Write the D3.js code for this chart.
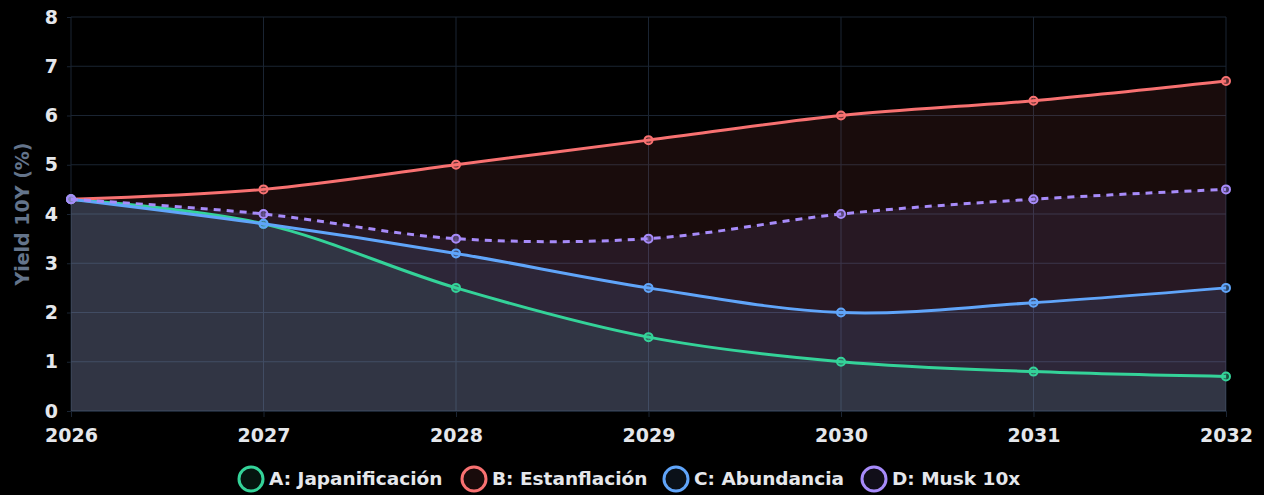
<!DOCTYPE html>
<html>
<head>
<meta charset="utf-8">
<script src="https://d3js.org/d3.v7.min.js"></script>
<style>
  body { margin: 0; background: #000; }
  text { font-family: "DejaVu Sans", sans-serif; font-weight: bold; }
</style>
</head>
<body>
<svg width="1264" height="495"></svg>
<script>
var years = [2026, 2027, 2028, 2029, 2030, 2031, 2032];
var yTicks = [0, 1, 2, 3, 4, 5, 6, 7, 8];

var seriesNames = ["A: Japanificación", "B: Estanflación", "C: Abundancia", "D: Musk 10x"];
var seriesColors = ["#34d399", "#f87171", "#60a5fa", "#a78bfa"];
var japan = [4.3, 3.8, 2.5, 1.5, 1.0, 0.8, 0.7];
var stag = [4.3, 4.5, 5.0, 5.5, 6.0, 6.3, 6.7];
var abund = [4.3, 3.8, 3.2, 2.5, 2.0, 2.2, 2.5];
var musk = [4.3, 4.0, 3.5, 3.5, 4.0, 4.3, 4.5];

var series = [
  { name: seriesNames[0], color: seriesColors[0], values: japan, dash: null },
  { name: seriesNames[1], color: seriesColors[1], values: stag, dash: null },
  { name: seriesNames[2], color: seriesColors[2], values: abund, dash: null },
  { name: seriesNames[3], color: seriesColors[3], values: musk, dash: "7,6" }
];

var svg = d3.select("svg"),
    margin = {top: 17, right: 38, bottom: 84, left: 71},
    width = +svg.attr("width") - margin.left - margin.right,
    height = +svg.attr("height") - margin.top - margin.bottom;

var x = d3.scaleLinear().domain([2026, 2032]).range([0, width]);
var y = d3.scaleLinear().domain([0, 8]).range([height, 0]);

var g = svg.append("g")
    .attr("transform", "translate(" + margin.left + "," + margin.top + ")");

// grid
g.append("g").selectAll("line").data(yTicks).enter().append("line")
    .attr("x1", 0).attr("x2", width)
    .attr("y1", function(d) { return y(d); }).attr("y2", function(d) { return y(d); })
    .attr("stroke", "#1a2432").attr("stroke-width", 1);
g.append("g").selectAll("line").data(years).enter().append("line")
    .attr("y1", 0).attr("y2", height)
    .attr("x1", function(d) { return x(d); }).attr("x2", function(d) { return x(d); })
    .attr("stroke", "#1a2432").attr("stroke-width", 1);

var curve = d3.curveCatmullRom.alpha(0.5);

var area = d3.area()
    .x(function(d, i) { return x(years[i]); })
    .y0(height)
    .y1(function(d) { return y(d); })
    .curve(curve);

var line = d3.line()
    .x(function(d, i) { return x(years[i]); })
    .y(function(d) { return y(d); })
    .curve(curve);

// areas
series.forEach(function(s) {
  g.append("path")
      .datum(s.values)
      .attr("d", area)
      .attr("fill", s.color)
      .attr("fill-opacity", 0.1);
});

// lines + points
series.forEach(function(s) {
  g.append("path")
      .datum(s.values)
      .attr("d", line)
      .attr("fill", "none")
      .attr("stroke", s.color)
      .attr("stroke-width", 3)
      .attr("stroke-dasharray", s.dash);
  g.append("g").selectAll("circle").data(s.values).enter().append("circle")
      .attr("cx", function(d, i) { return x(years[i]); })
      .attr("cy", function(d) { return y(d); })
      .attr("r", 4)
      .attr("fill", s.color)
      .attr("fill-opacity", 0.4)
      .attr("stroke", s.color)
      .attr("stroke-width", 2);
});

// axes
var xAxis = g.append("g")
    .attr("transform", "translate(0," + height + ")")
    .call(d3.axisBottom(x).tickValues(years).tickFormat(d3.format("d")).tickSize(6).tickPadding(12));
xAxis.select(".domain").attr("stroke", "#1a2432");
xAxis.selectAll(".tick line").attr("stroke", "#1a2432");
xAxis.selectAll("text").attr("fill", "#e5e7eb").style("font-size", "19px");

var yAxis = g.append("g")
    .call(d3.axisLeft(y).tickValues(yTicks).tickSize(4).tickPadding(9));
yAxis.select(".domain").remove();
yAxis.selectAll(".tick line").attr("stroke", "#1a2432");
yAxis.selectAll("text").attr("fill", "#e5e7eb").style("font-size", "19px");

// y axis title
svg.append("text")
    .attr("transform", "translate(22," + (margin.top + height / 2) + ") rotate(-90)")
    .attr("dy", "0.35em")
    .style("text-anchor", "middle")
    .style("font-size", "19px")
    .attr("fill", "#64748b")
    .text("Yield 10Y (%)");

// legend
var legendX = [251, 474, 676, 874];
var legend = svg.append("g").attr("transform", "translate(0,479)");
series.forEach(function(s, i) {
  legend.append("circle")
      .attr("cx", legendX[i]).attr("cy", 0).attr("r", 12)
      .attr("fill", d3.interpolateRgb("#000", s.color)(0.1))
      .attr("stroke", s.color).attr("stroke-width", 3);
  legend.append("text")
      .attr("x", legendX[i] + 18).attr("y", 0).attr("dy", "0.35em")
      .attr("fill", "#e5e7eb")
      .style("font-size", "18.5px")
      .text(s.name);
});
</script>
</body>
</html>
